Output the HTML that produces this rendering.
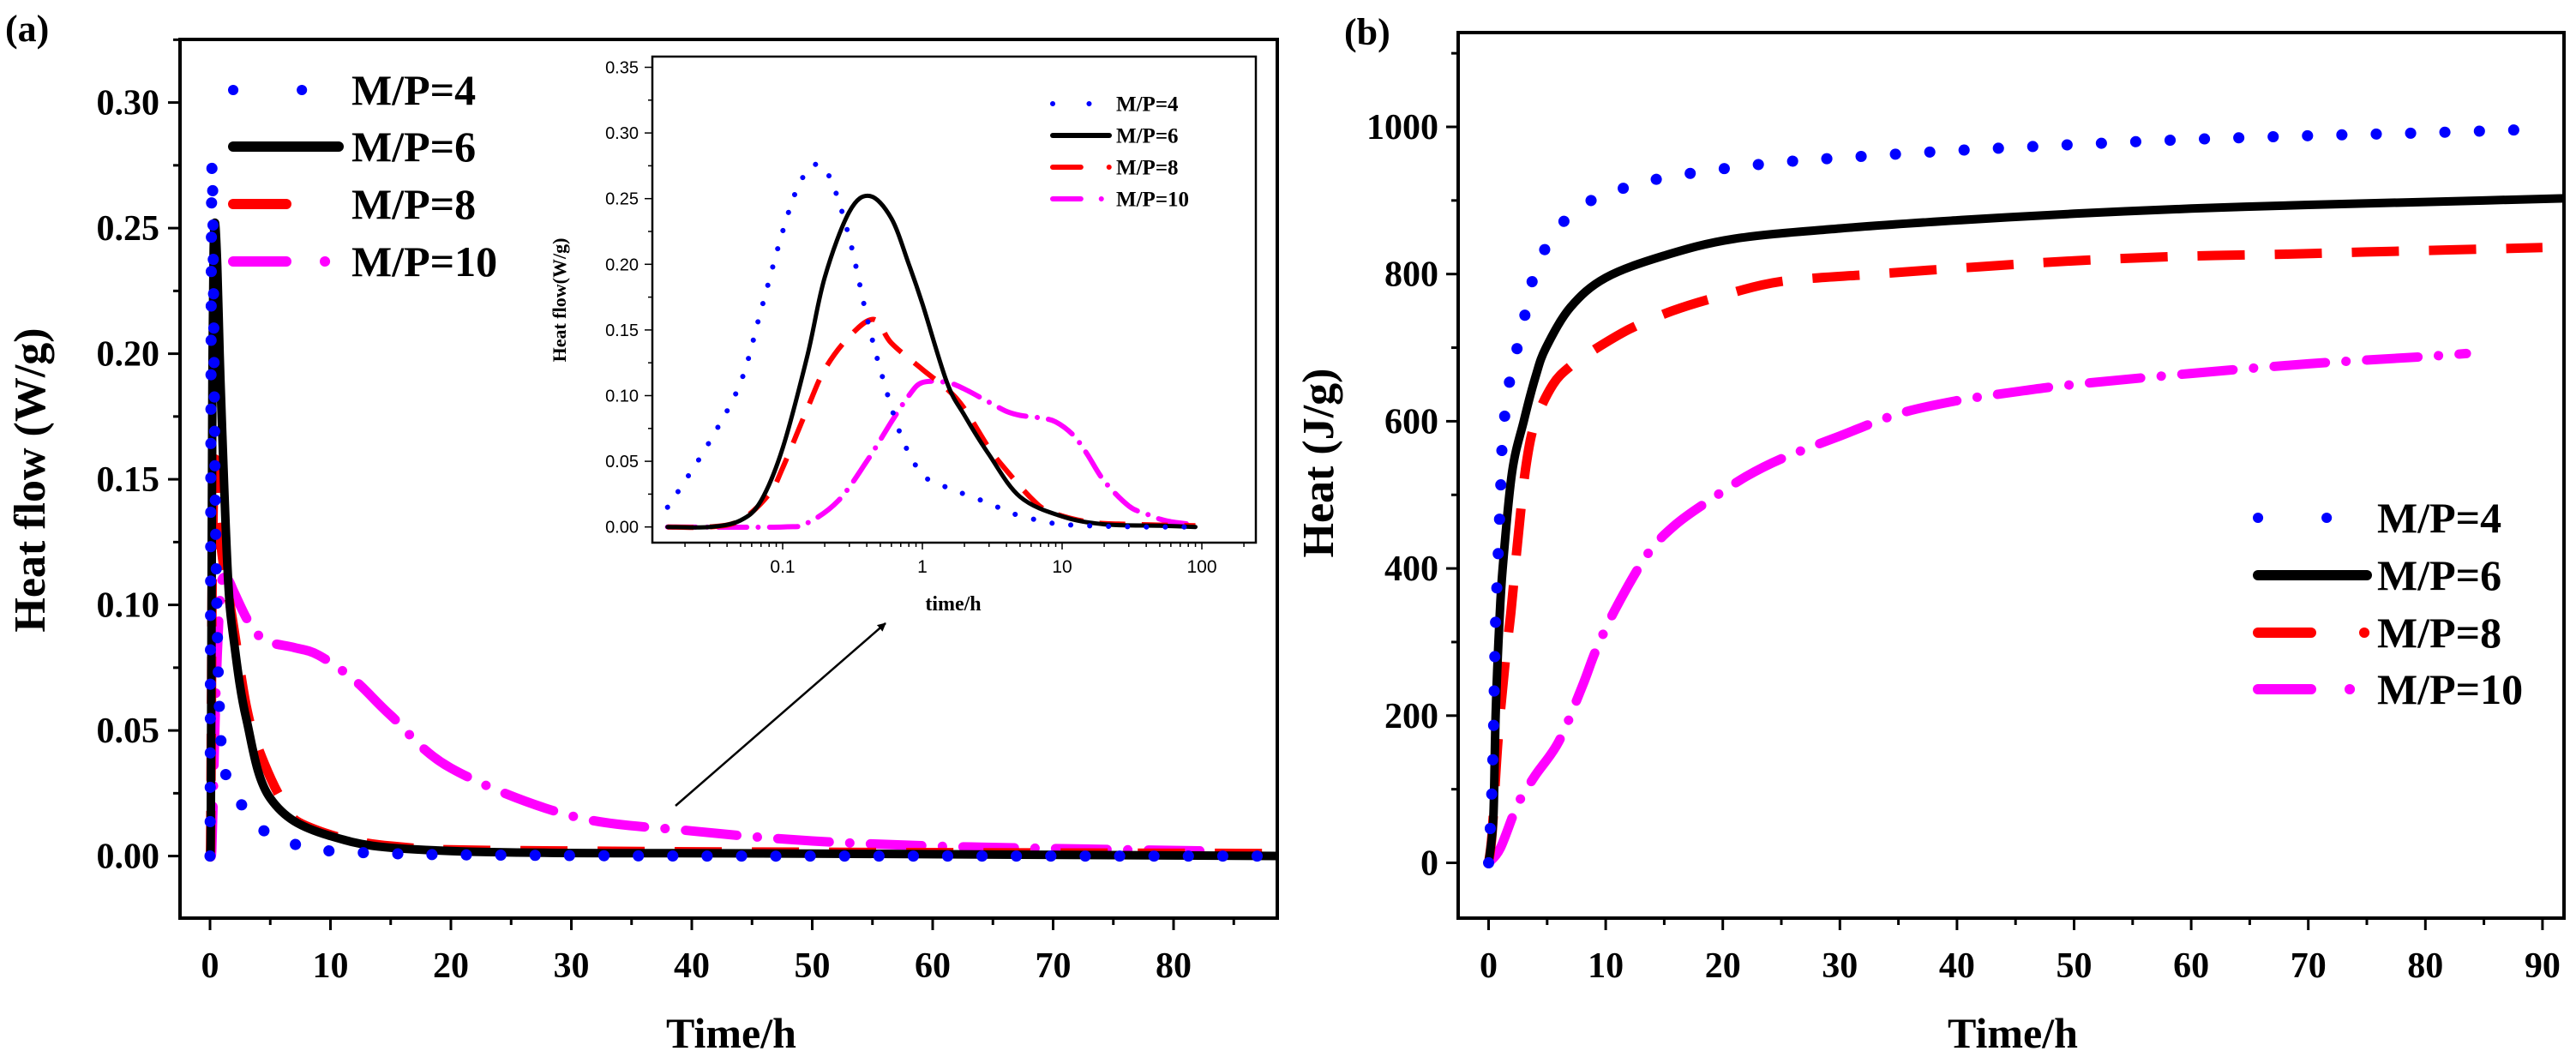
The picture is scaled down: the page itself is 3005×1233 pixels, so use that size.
<!DOCTYPE html>
<html><head><meta charset="utf-8"><style>
body{margin:0;background:#fff}
svg{display:block}
.ser{font-family:"Liberation Serif",serif;font-weight:bold}
.san{font-family:"Liberation Sans",sans-serif}
</style></head><body>
<svg id="svg" width="3005" height="1233" viewBox="0 0 3005 1233" xmlns="http://www.w3.org/2000/svg">
<defs>
<clipPath id="clipA"><rect x="210" y="46" width="1280" height="1025"/></clipPath>
<clipPath id="clipI"><rect x="761" y="66" width="704" height="567"/></clipPath>
<clipPath id="clipB"><rect x="1701" y="38" width="1290" height="1033"/></clipPath>
<marker id="arrow" markerWidth="10" markerHeight="10" refX="9" refY="5" orient="auto" markerUnits="userSpaceOnUse"><path d="M0,0 L10,5 L0,10 Z" fill="#000"/></marker>
</defs>
<g id="root"></g>
</svg>
<script>
// ---- panel (a) data: heat flow (W/g) vs time (h) ----
const t4 = [0,0.015,0.02,0.03,0.05,0.07,0.1,0.13,0.17,0.22,0.3,0.4,0.5,0.7,1,1.5,2,3,4.5,7.5,10,15,20,40,60,90];
const q4 = [0,0.015,0.035,0.065,0.11,0.165,0.225,0.26,0.276,0.265,0.22,0.16,0.12,0.07,0.04,0.03,0.025,0.018,0.01,0.004,0.002,0.001,0.0005,0,0,0];
const t6 = [0,0.015,0.03,0.05,0.07,0.1,0.15,0.2,0.3,0.42,0.6,0.8,1,1.5,2,3,5,10,20,50,90];
const q6 = [0,0,0,0.005,0.02,0.06,0.13,0.19,0.24,0.252,0.235,0.2,0.17,0.11,0.085,0.055,0.023,0.008,0.002,0.001,0];
const t8 = [0,0.015,0.03,0.05,0.08,0.1,0.15,0.2,0.3,0.45,0.6,1,1.5,2,3,4,6,8,15,30,90];
const q8 = [0,0,0,0.005,0.025,0.045,0.09,0.12,0.145,0.158,0.14,0.12,0.105,0.09,0.06,0.043,0.022,0.012,0.004,0.002,0.001];
const t10 = [0,0.015,0.1,0.15,0.25,0.4,0.6,0.8,1,1.5,2,3,4,5,7,9,12,15,20,30,40,50,60,70,83];
const q10 = [0,0,0,0.003,0.02,0.05,0.08,0.1,0.11,0.11,0.105,0.095,0.088,0.085,0.083,0.08,0.07,0.056,0.035,0.016,0.01,0.006,0.004,0.003,0.002];
const xTicksA = [0,10,20,30,40,50,60,70,80];
const yTicksA = [0,0.05,0.10,0.15,0.20,0.25,0.30];
const yTickLabA = ["0.00","0.05","0.10","0.15","0.20","0.25","0.30"];
const xTicksI = [0.1,1,10,100];
const xTickLabI = ["0.1","1","10","100"];
const yTicksI = [0,0.05,0.10,0.15,0.20,0.25,0.30,0.35];
const yTickLabI = ["0.00","0.05","0.10","0.15","0.20","0.25","0.30","0.35"];
// ---- panel (b) data: heat (J/g) vs time (h) ----
const h4t = [0,0.25,0.4,0.5,0.6,0.8,1.0,1.2,1.8,2.9,3.8,5.5,8,11.2,14.7,20,25,30,40,50,60,70,80,90];
const h4 = [0,85,165,250,330,410,494,577,655,729,794,853,893,915,930,943,952,958,968,976,983,988,992,997];
const h6t = [0,0.4,0.6,0.9,1.2,2,3,4,4.9,7,10,15,21,30,40,50,60,70,80,92];
const h6 = [0,60,200,320,400,530,600,660,700,755,795,825,848,862,873,882,889,894,898,903];
const h8t = [0,0.3,0.8,1.4,1.9,2.5,3.2,4,5.5,7,8.8,12,15.7,19.8,25,33,42,50,59,68,75,90];
const h8 = [0,40,165,270,340,440,540,600,650,675,695,725,750,770,790,800,810,818,824,827,830,836];
const h10t = [0,1,2.5,4,6,8,9.2,11,13.6,16,19,22,25,30,35,40,45,50,60,70,80,83.5];
const h10 = [0,20,80,119,165,240,290,350,420,460,494,525,549,580,610,628,640,650,665,678,688,692];
const xTicksB = [0,10,20,30,40,50,60,70,80,90];
const yTicksB = [0,200,400,600,800,1000];

const NS = "http://www.w3.org/2000/svg";
const root = document.getElementById('root');
function mk(tag, attrs, parent, text){
  const e = document.createElementNS(NS, tag);
  for (const k in attrs) e.setAttribute(k, attrs[k]);
  if (text !== undefined) e.textContent = text;
  (parent || root).appendChild(e);
  return e;
}
const xA = v => 245 + v * 14.05;
const yA = v => 998.6 - v / 0.05 * 146.5;
const xI = v => 913 + Math.log10(v / 0.1) * 163;
const yI = v => 614.7 - v / 0.35 * 536.2;
const xB = v => 1736.5 + v * 13.66;
const yB = v => 1006.5 - v / 200 * 171.7;

const styles = {
  blue:   {stroke:'#0000ff', dash:'0.1 40', cap:'round'},
  black:  {stroke:'#000000', dash:'none', cap:'round'},
  red:    {stroke:'#ff0000', dash:'55 35', cap:'butt'},
  magenta:{stroke:'#ff00ff', dash:'60 24 0.1 24', cap:'round'}
};
function smoothPath(pts){
  let d = 'M' + pts[0][0].toFixed(1) + ',' + pts[0][1].toFixed(1);
  for (let i = 0; i < pts.length - 1; i++) {
    const p0 = pts[Math.max(0, i - 1)], p1 = pts[i], p2 = pts[i + 1], p3 = pts[Math.min(pts.length - 1, i + 2)];
    const k = 1 / 6;
    let c1x = p1[0] + (p2[0] - p0[0]) * k, c1y = p1[1] + (p2[1] - p0[1]) * k;
    let c2x = p2[0] - (p3[0] - p1[0]) * k, c2y = p2[1] - (p3[1] - p1[1]) * k;
    d += ' C' + c1x.toFixed(1) + ',' + c1y.toFixed(1) + ' ' + c2x.toFixed(1) + ',' + c2y.toFixed(1) + ' ' + p2[0].toFixed(1) + ',' + p2[1].toFixed(1);
  }
  return d;
}
function series(xs, ys, fx, fy, st, w, clip, name, scale){
  const pts = [];
  for (let i = 0; i < xs.length; i++) {
    if (fx === xI && xs[i] <= 0) continue;
    pts.push([fx(xs[i]), fy(ys[i])]);
  }
  const dash = st.dash === 'none' ? 'none' : st.dash.split(' ').map(v => v * scale).join(' ');
  const p = mk('path', {d:smoothPath(pts), fill:'none', stroke:st.stroke, 'stroke-width':w, 'stroke-dasharray':dash, 'stroke-linecap':st.cap, 'stroke-linejoin':'round', 'clip-path':'url(#' + clip + ')'});
  
  
  return p;
}
function legend(x1, x2, x3, ys, fs, w, scale, prefix){
  const labs = ['M/P=4','M/P=6','M/P=8','M/P=10'];
  const sts = [styles.blue, styles.black, styles.red, styles.magenta];
  const ldash = ['0.1 80', 'none', '62 62 0.1 100', '62 45 0.1 100'];
  for (let i = 0; i < 4; i++) {
    const g = mk('g', {});
    
    
    const st = sts[i];
    const dash = ldash[i] === 'none' ? 'none' : ldash[i].split(' ').map(v => v * scale).join(' ');
    mk('line', {x1:x1, y1:ys[i], x2:x2, y2:ys[i], stroke:st.stroke, 'stroke-width':w, 'stroke-dasharray':dash, 'stroke-linecap':st.cap === 'butt' ? 'round' : st.cap}, g);
    mk('text', {x:x3, y:ys[i] + fs * 0.34, 'font-size':fs, class:'ser'}, g, labs[i]);
  }
}

// ===== Panel (a) =====
mk('text', {x:6, y:48, 'font-size':44, class:'ser'}, root, '(a)');
mk('rect', {x:210, y:46, width:1280, height:1025, fill:'none', stroke:'#000', 'stroke-width':4});
for (let v = 0; v <= 88; v += 5) {
  const major = v % 10 === 0;
  mk('line', {x1:xA(v), y1:1071, x2:xA(v), y2:1071 + (major ? 14 : 8), stroke:'#000', 'stroke-width':3});
}
xTicksA.forEach(v => {
  const t = mk('text', {x:xA(v), y:1140, 'font-size':42, 'text-anchor':'middle', class:'ser'}, root, String(v));
  
  
});
for (let v = 0; v <= 0.325; v += 0.025) {
  const major = Math.round(v / 0.025) % 2 === 0;
  mk('line', {x1:210, y1:yA(v), x2:210 - (major ? 14 : 8), y2:yA(v), stroke:'#000', 'stroke-width':3});
}
yTicksA.forEach((v, i) => {
  const t = mk('text', {x:186, y:yA(v) + 14, 'font-size':42, 'text-anchor':'end', class:'ser'}, root, yTickLabA[i]);
  
  
});
mk('text', {x:0, y:0, 'font-size':52, 'text-anchor':'middle', class:'ser', transform:'translate(52,560) rotate(-90)'}, root, 'Heat flow (W/g)');
mk('text', {x:853, y:1222, 'font-size':50, 'text-anchor':'middle', class:'ser'}, root, 'Time/h');
series(t10, q10, xA, yA, styles.magenta, 11, 'clipA', 'series-a-mp10', 1);
series(t8, q8, xA, yA, styles.red, 11, 'clipA', 'series-a-mp8', 1);
series(t6, q6, xA, yA, styles.black, 10, 'clipA', 'series-a-mp6', 1);
series(t4, q4, xA, yA, styles.blue, 13, 'clipA', 'series-a-mp4', 1);
legend(272, 395, 410, [105,171,238,305], 50, 12, 1, 'a');
mk('line', {x1:788, y1:940, x2:1033, y2:727, stroke:'#000', 'stroke-width':2.5, 'marker-end':'url(#arrow)'});

// ===== Inset =====
mk('rect', {x:761, y:66, width:704, height:567, fill:'#fff', stroke:'#000', 'stroke-width':2.5});
for (let e = -2; e <= 2; e++) {
  for (let m = 1; m <= 9; m++) {
    const v = m * Math.pow(10, e);
    const x = xI(v);
    if (x < 761 || x > 1465) continue;
    mk('line', {x1:x, y1:633, x2:x, y2:633 + (m === 1 ? 8 : 5), stroke:'#000', 'stroke-width':1.5});
  }
}
xTicksI.forEach((v, i) => {
  const t = mk('text', {x:xI(v), y:668, 'font-size':21, 'text-anchor':'middle', class:'san'}, root, xTickLabI[i]);
  
  
});
for (let v = 0; v <= 0.355; v += 0.025) {
  const major = Math.round(v / 0.025) % 2 === 0;
  mk('line', {x1:761, y1:yI(v), x2:761 - (major ? 9 : 5), y2:yI(v), stroke:'#000', 'stroke-width':1.5});
}
yTicksI.forEach((v, i) => {
  const t = mk('text', {x:745, y:yI(v) + 7, 'font-size':20, 'text-anchor':'end', class:'san'}, root, yTickLabI[i]);
  
  
});
mk('text', {x:0, y:0, 'font-size':22, 'text-anchor':'middle', class:'ser', transform:'translate(660,350) rotate(-90)'}, root, 'Heat flow(W/g)');
mk('text', {x:1112, y:712, 'font-size':24, 'text-anchor':'middle', class:'ser'}, root, 'time/h');
series(t10, q10, xI, yI, styles.magenta, 6, 'clipI', 'inset-series-mp10', 0.55);
series(t8, q8, xI, yI, styles.red, 6, 'clipI', 'inset-series-mp8', 0.55);
series(t6, q6, xI, yI, styles.black, 5, 'clipI', 'inset-series-mp6', 0.55);
series(t4, q4, xI, yI, styles.blue, 6, 'clipI', 'inset-series-mp4', 0.55);
legend(1228, 1294, 1302, [121,158,195,232], 25, 6, 0.53, 'inset');

// ===== Panel (b) =====
mk('text', {x:1568, y:52, 'font-size':44, class:'ser'}, root, '(b)');
mk('rect', {x:1701, y:38, width:1290, height:1033, fill:'none', stroke:'#000', 'stroke-width':4});
for (let v = 0; v <= 91; v += 5) {
  const major = v % 10 === 0;
  mk('line', {x1:xB(v), y1:1071, x2:xB(v), y2:1071 + (major ? 14 : 8), stroke:'#000', 'stroke-width':3});
}
xTicksB.forEach(v => {
  const t = mk('text', {x:xB(v), y:1140, 'font-size':42, 'text-anchor':'middle', class:'ser'}, root, String(v));
  
  
});
for (let v = 0; v <= 1100; v += 100) {
  const major = v % 200 === 0;
  mk('line', {x1:1701, y1:yB(v), x2:1701 - (major ? 14 : 8), y2:yB(v), stroke:'#000', 'stroke-width':3});
}
yTicksB.forEach(v => {
  const t = mk('text', {x:1678, y:yB(v) + 14, 'font-size':42, 'text-anchor':'end', class:'ser'}, root, String(v));
  
  
});
mk('text', {x:0, y:0, 'font-size':52, 'text-anchor':'middle', class:'ser', transform:'translate(1555,540) rotate(-90)'}, root, 'Heat (J/g)');
mk('text', {x:2348, y:1222, 'font-size':50, 'text-anchor':'middle', class:'ser'}, root, 'Time/h');
series(h10t, h10, xB, yB, styles.magenta, 11, 'clipB', 'series-b-mp10', 1);
series(h8t, h8, xB, yB, styles.red, 11, 'clipB', 'series-b-mp8', 1);
series(h6t, h6, xB, yB, styles.black, 10, 'clipB', 'series-b-mp6', 1);
series(h4t, h4, xB, yB, styles.blue, 13, 'clipB', 'series-b-mp4', 1);
legend(2634, 2761, 2773, [604,671,738,804], 50, 12, 1, 'b');
</script>
</body></html>
